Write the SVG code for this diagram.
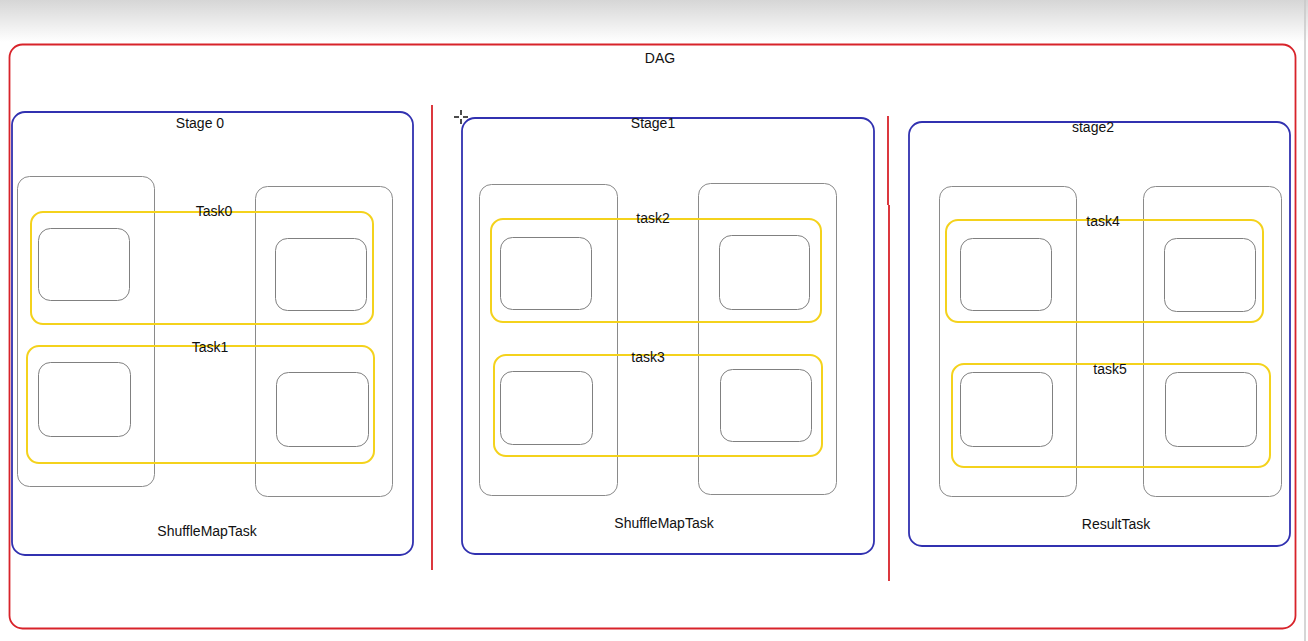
<svg xmlns="http://www.w3.org/2000/svg" width="1308" height="641" viewBox="0 0 1308 641">
<defs>
<linearGradient id="topfade" x1="0" y1="0" x2="0" y2="1">
<stop offset="0" stop-color="#d6d6d6"/>
<stop offset="1" stop-color="#ffffff"/>
</linearGradient>
<style>
.dag{fill:none;stroke:#d8232a;stroke-width:1.8}
.sep{stroke:#d8232a;stroke-width:1.8}
.stage{fill:none;stroke:#3131b0;stroke-width:1.8}
.col{fill:none;stroke:#8a8a8a;stroke-width:1}
.task{fill:none;stroke:#f4d21c;stroke-width:2}
.part{fill:none;stroke:#808080;stroke-width:1}
text{font-family:"Liberation Sans",Arial,sans-serif;font-size:14px;fill:#111;text-anchor:middle}
</style>
</defs>
<rect x="0" y="0" width="1308" height="641" fill="#ffffff"/>
<rect x="0" y="0" width="1308" height="42" fill="url(#topfade)"/>
<line x1="1305" y1="0" x2="1305" y2="641" stroke="#c8c8c8" stroke-width="1.5"/>

<g id="dag">
<rect class="dag" x="9.5" y="44.5" width="1286" height="584" rx="13"/>
<text x="660" y="63">DAG</text>
</g>

<g id="separators">
<line class="sep" x1="432" y1="105" x2="432" y2="570"/>
<line class="sep" x1="888" y1="116" x2="888" y2="205"/>
<line class="sep" x1="889" y1="205" x2="889" y2="581"/>
</g>

<g id="stage0">
<rect class="stage" x="12" y="112" width="401" height="443" rx="13"/>
<text x="200" y="128">Stage 0</text>
<rect class="col" x="17.5" y="176.5" width="137" height="310" rx="12"/>
<rect class="col" x="255.5" y="186.5" width="137" height="310" rx="12"/>
<g id="task0">
<rect class="task" x="31" y="212" width="342" height="112" rx="12"/>
<text x="214" y="216">Task0</text>
<rect class="part" x="38.5" y="228.5" width="91" height="72" rx="12"/>
<rect class="part" x="275.5" y="238.5" width="91" height="72" rx="12"/>
</g>
<g id="task1">
<rect class="task" x="27" y="346" width="347" height="117" rx="12"/>
<text x="210" y="352">Task1</text>
<rect class="part" x="38.5" y="362.5" width="92" height="74" rx="12"/>
<rect class="part" x="276.5" y="372.5" width="92" height="74" rx="12"/>
</g>
<text x="207" y="536">ShuffleMapTask</text>
</g>

<g id="stage1">
<rect class="stage" x="462" y="118" width="412" height="436" rx="13"/>
<text x="653" y="128">Stage1</text>
<rect class="col" x="479.5" y="184.5" width="138" height="311" rx="12"/>
<rect class="col" x="698.5" y="183.5" width="138" height="311" rx="12"/>
<g id="task2">
<rect class="task" x="491" y="219" width="330" height="103" rx="12"/>
<text x="653" y="223">task2</text>
<rect class="part" x="500.5" y="237.5" width="91" height="72" rx="12"/>
<rect class="part" x="719.5" y="235.5" width="90" height="74" rx="12"/>
</g>
<g id="task3">
<rect class="task" x="494" y="355" width="328" height="101" rx="12"/>
<text x="648" y="362">task3</text>
<rect class="part" x="500.5" y="371.5" width="92" height="73" rx="12"/>
<rect class="part" x="720.5" y="369.5" width="91" height="72" rx="12"/>
</g>
<text x="664" y="528">ShuffleMapTask</text>
</g>

<g id="stage2">
<rect class="stage" x="909" y="122" width="381" height="424" rx="13"/>
<text x="1093" y="132">stage2</text>
<rect class="col" x="939.5" y="186.5" width="137" height="310" rx="12"/>
<rect class="col" x="1143.5" y="186.5" width="138" height="310" rx="12"/>
<g id="task4">
<rect class="task" x="946" y="220" width="317" height="102" rx="12"/>
<text x="1103" y="226">task4</text>
<rect class="part" x="960.5" y="238.5" width="91" height="72" rx="12"/>
<rect class="part" x="1164.5" y="238.5" width="91" height="73" rx="12"/>
</g>
<g id="task5">
<rect class="task" x="952" y="364" width="318" height="103" rx="12"/>
<text x="1110" y="374">task5</text>
<rect class="part" x="960.5" y="372.5" width="92" height="74" rx="12"/>
<rect class="part" x="1165.5" y="372.5" width="91" height="74" rx="12"/>
</g>
<text x="1116" y="529">ResultTask</text>
</g>

<g id="cursor" stroke="#111" stroke-width="1.5">
<line x1="461" y1="110" x2="461" y2="115"/>
<line x1="461" y1="119" x2="461" y2="124"/>
<line x1="454" y1="117" x2="459" y2="117"/>
<line x1="463" y1="117" x2="468" y2="117"/>
</g>

<g id="connectors"></g>
</svg>
